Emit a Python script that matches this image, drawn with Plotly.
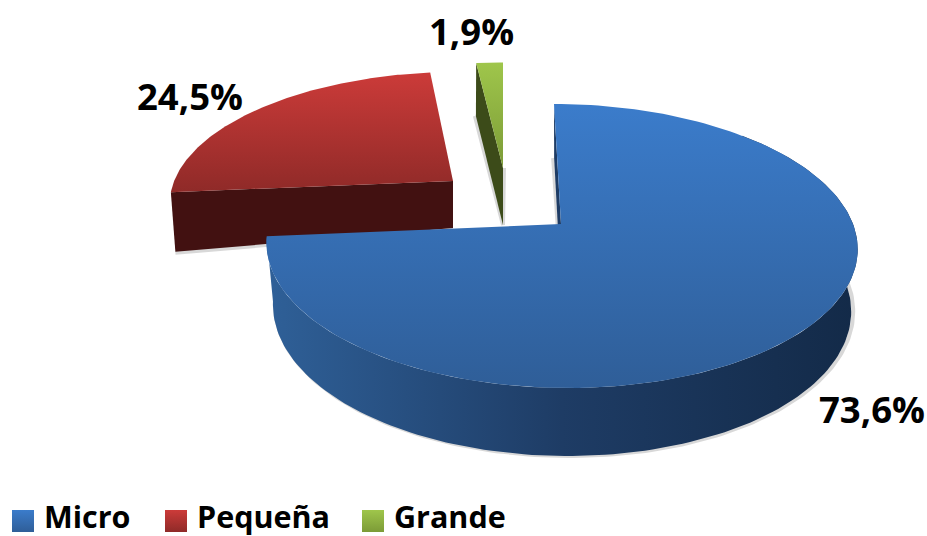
import numpy as np
import plotly.graph_objects as go

categories = ["Micro", "Pequeña", "Grande"]
values = [73.6, 24.5, 1.9]
labels = ["73,6%", "24,5%", "1,9%"]

# geometry / style of the exploded perspective pie (pixel-space axes)
R, P, K = 292.0, 0.155, 138.6
STYLE = {
    "Micro":   dict(apex=(561, 224), scale=1.0, yscale=1.0, lean=-7, h0=61, dh=7, ha=61, shrink=.022,
                    top=("#3b7ccb", "#2f5e98"), side=("#2f6098", "#1e3c65", "#132a48")),
    "Pequeña": dict(apex=(453, 181), scale=.955, yscale=.91, lean=6, h0=59, dh=7, ha=47, shrink=.016,
                    top=("#cc3b39", "#8f2a28"), side=("#421111", "#421111")),
    "Grande":  dict(apex=(503, 168), scale=.89, yscale=.88, lean=0, h0=56, dh=3, ha=57, shrink=-.01,
                    top=("#9fc64b", "#7c9b37"), side=("#3c4b19", "#3c4b19")),
}

def rim(st, deg, low=False):
    t = np.radians(np.asarray(deg, float))
    s, c = np.sin(t), np.cos(t)
    d = 1 + P * c
    x = R * st["scale"] * s / d + st["lean"] * c
    y = -K * st["yscale"] * c / d
    ax, ay = st["apex"]
    if low:
        x = x * (1 - st["shrink"])
        y = y + st["h0"] - st["dh"] * c
    return ax + x, ay + y

def apex_low(st):
    return st["apex"][0], st["apex"][1] + st["ha"]

fig = go.Figure()

def poly(xs, ys, colors, kind):
    n = len(colors) - 1
    fig.add_trace(go.Scatter(
        x=xs, y=ys, mode="lines", fill="toself", line=dict(width=0),
        fillgradient=dict(type=kind, colorscale=[[i / n, col] for i, col in enumerate(colors)]),
        hoverinfo="skip", showlegend=False))

def shadow(xs, ys):
    fig.add_trace(go.Scatter(
        x=xs, y=ys, mode="lines", line=dict(width=4, color="rgba(60,60,60,0.2)"),
        hoverinfo="skip", showlegend=False))

total = sum(values)
spans = {}
a = 0.0
for name, v in zip(categories, values):
    spans[name] = (a, a + v / total * 360)
    a += v / total * 360

for name in ["Pequeña", "Grande", "Micro"]:
    st = STYLE[name]
    a0, a1 = spans[name]
    ax, ay = st["apex"]
    lx, ly = apex_low(st)
    th = np.linspace(a0, a1, 160)
    tx, ty = rim(st, th)
    if name == "Micro":
        rx, ry = rim(st, 0.0)
        qx, qy = rim(st, 0.0, low=True)
        shadow([qx - 1, lx - 3], [qy, ly - 55])
        poly([ax, rx, qx, lx], [ay, ry, qy, ly], (st["side"][1], st["side"][1]), "vertical")
        w = np.linspace(45, a1, 160)
        ux, uy = rim(st, w)
        bx, by = rim(st, w, low=True)
        sx, sy = rim(st, np.linspace(88, a1, 160), low=True)
        shadow(sx + 2, sy)
        poly(np.r_[ux, bx[::-1]], np.r_[uy, by[::-1]], st["side"], "horizontal")
    elif name == "Pequeña":
        rx, ry = rim(st, a0)
        qx, qy = rim(st, a0, low=True)
        shadow([qx, lx], [qy + 1, ly + 1])
        poly([ax, rx, qx, lx], [ay, ry, qy, ly], st["side"], "vertical")
    else:
        rx, ry = rim(st, a0)
        qx, qy = rim(st, a0, low=True)
        shadow([qx - 1, lx, ax + 1], [qy, ly, ay])
        poly([ax, rx, qx, lx], [ay, ry, qy, ly], st["side"], "vertical")
    # the y axis is reversed, so the gradient stops run bottom to top on screen
    poly(np.r_[ax, tx], np.r_[ay, ty], st["top"][::-1], "vertical")

FONT = "Open Sans"
LABEL_POS = {"Micro": (872, 409), "Pequeña": (190, 96), "Grande": (471, 31)}
for name, text in zip(categories, labels):
    lx, ly = LABEL_POS[name]
    fig.add_annotation(x=lx, y=ly, text=f"<b>{text}</b>", showarrow=False,
                       font=dict(family=FONT, size=36.5, color="#000000"))

LEG_POS = {"Micro": 23, "Pequeña": 176, "Grande": 373}
for name in categories:
    st = STYLE[name]
    x0 = LEG_POS[name]
    fig.add_trace(go.Scatter(
        x=[x0], y=[521], mode="markers", hoverinfo="skip", showlegend=False,
        marker=dict(symbol="square", size=22, color=st["top"][0], line=dict(width=0),
                    gradient=dict(type="vertical", color=st["top"][1]))))
    fig.add_annotation(x=x0 + 19, y=515.5, text=f"<b>{name}</b>", showarrow=False, xanchor="left",
                       font=dict(family=FONT, size=30.5, color="#000000"))

fig.update_layout(
    width=927, height=536, margin=dict(l=0, r=0, t=0, b=0),
    paper_bgcolor="white", plot_bgcolor="white", showlegend=False,
    xaxis=dict(range=[0, 927], visible=False, fixedrange=True),
    yaxis=dict(range=[536, 0], visible=False, fixedrange=True),
)
fig.write_html("out.html", post_script="document.body.style.margin='0';", config={"displayModeBar": False})
